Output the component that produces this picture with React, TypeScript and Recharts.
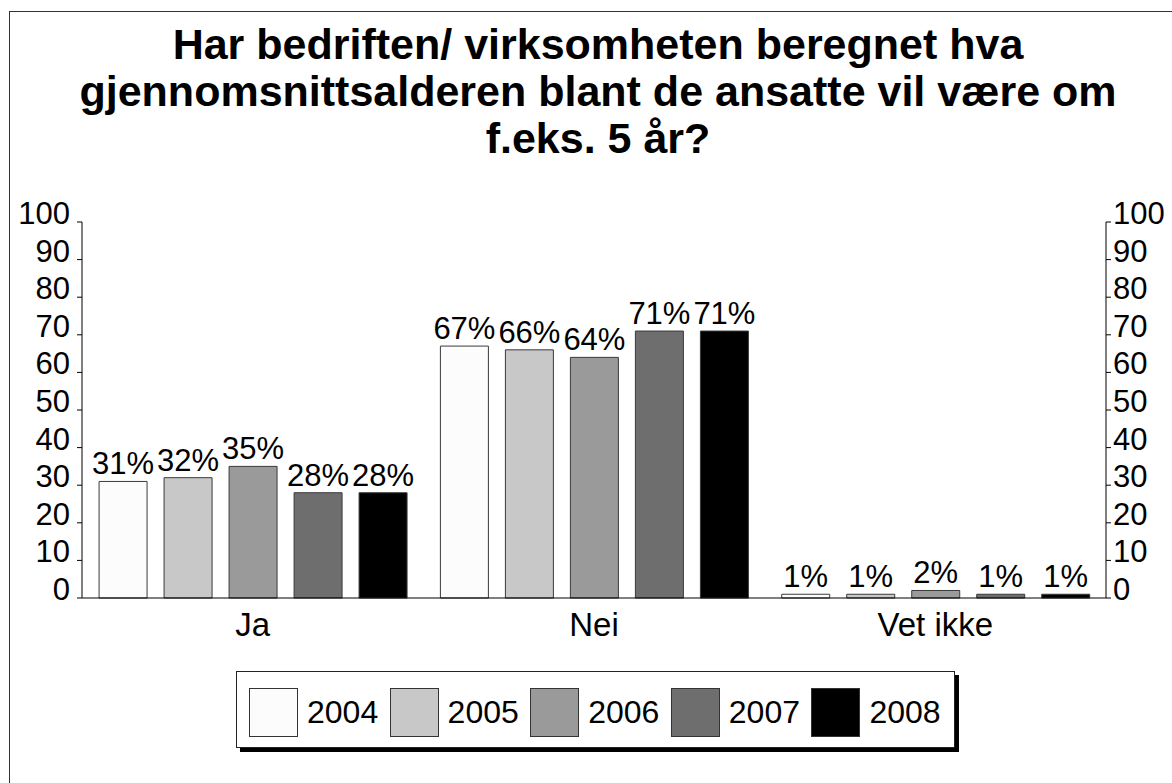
import React from "react";
import { ComposedChart, Bar, Line, XAxis, YAxis, LabelList, Legend } from "recharts";

const categories = ["Ja", "Nei", "Vet ikke"];
const years = ["2004", "2005", "2006", "2007", "2008"];
const colors = ["#fcfcfc", "#c8c8c8", "#9a9a9a", "#6e6e6e", "#000000"];
const v2004 = [31, 67, 1];
const v2005 = [32, 66, 1];
const v2006 = [35, 64, 2];
const v2007 = [28, 71, 1];
const v2008 = [28, 71, 1];
const yTicks = [0, 10, 20, 30, 40, 50, 60, 70, 80, 90, 100];

const series = [v2004, v2005, v2006, v2007, v2008];
const rows = categories.map((c, i) => {
  const r: Record<string, string | number> = { cat: c };
  years.forEach((y, k) => (r[y] = series[k][i]));
  return r;
});

const font = "'Liberation Sans', Arial, sans-serif";

function LegendBox() {
  return (
    <div
      style={{
        position: "relative",
        width: 719,
        height: 77,
        border: "1px solid #222",
        background: "#fff",
        boxShadow: "4px 4px 0 #000",
        boxSizing: "border-box",
        fontFamily: font,
      }}
    >
      {years.map((y, i) => (
        <div key={y} style={{ position: "absolute", left: 12 + i * 140.6, top: 16, display: "flex", alignItems: "center" }}>
          <div style={{ width: 49, height: 49, background: colors[i], border: "1px solid #333", boxSizing: "border-box" }} />
          <span style={{ marginLeft: 9, fontSize: 32, color: "#000", lineHeight: "49px" }}>{y}</span>
        </div>
      ))}
    </div>
  );
}

export default function App() {
  return (
    <div style={{ position: "absolute", left: 0, top: 0, width: 1172, height: 783, overflow: "hidden", background: "#fff", fontFamily: font }}>
      <div style={{ position: "absolute", left: 9, top: 11, width: 1200, height: 800, border: "1px solid #333" }} />
      <div
        style={{
          position: "absolute",
          left: -2,
          top: 21,
          width: 1200,
          textAlign: "center",
          fontSize: 43,
          fontWeight: "bold",
          lineHeight: "47px",
          color: "#000",
        }}
      >
        Har bedriften/ virksomheten beregnet hva
        <br />
        gjennomsnittsalderen blant de ansatte vil være om
        <br />
        f.eks. 5 år?
      </div>
      <div style={{ position: "absolute", left: 0, top: 0 }}>
        <ComposedChart
          width={1172}
          height={783}
          data={rows}
          margin={{ top: 222, right: 6, bottom: 145, left: 12 }}
          barCategoryGap="5%"
          barGap={17}
        >
          <XAxis
            dataKey="cat"
            height={40}
            axisLine={{ stroke: "#000" }}
            tickLine={false}
            tickMargin={9}
            tick={{ fontSize: 33, fill: "#000", fontFamily: font }}
          />
          <YAxis
            yAxisId="left"
            width={70}
            domain={[0, 100]}
            ticks={yTicks}
            interval={0}
            axisLine={{ stroke: "#000" }}
            tickLine={{ stroke: "#000" }}
            tickSize={5}
            tickMargin={7}
            tick={{ fontSize: 31, fill: "#000", fontFamily: font, dy: -9 }}
          />
          <YAxis
            yAxisId="right"
            orientation="right"
            width={60}
            domain={[0, 100]}
            ticks={yTicks}
            interval={0}
            axisLine={{ stroke: "#000" }}
            tickLine={{ stroke: "#000" }}
            tickSize={5}
            tickMargin={2}
            tick={{ fontSize: 31, fill: "#000", fontFamily: font, dy: -9 }}
          />
          {years.map((y, i) => (
            <Bar key={y} yAxisId="left" dataKey={y} fill={colors[i]} stroke="#3a3a3a" strokeWidth={1} isAnimationActive={false}>
              <LabelList
                dataKey={y}
                position="top"
                offset={7}
                formatter={(v: number) => `${v}%`}
                style={{ fontSize: 31, fill: "#000", fontFamily: font }}
              />
            </Bar>
          ))}
          <Line
            yAxisId="right"
            dataKey="2004"
            stroke="none"
            dot={false}
            activeDot={false}
            legendType="none"
            isAnimationActive={false}
          />
          <Legend
            layout="horizontal"
            verticalAlign="middle"
            align="center"
            wrapperStyle={{ position: "absolute", left: 236, top: 671, width: 719, height: 77 }}
            content={() => <LegendBox />}
          />
        </ComposedChart>
      </div>
    </div>
  );
}
